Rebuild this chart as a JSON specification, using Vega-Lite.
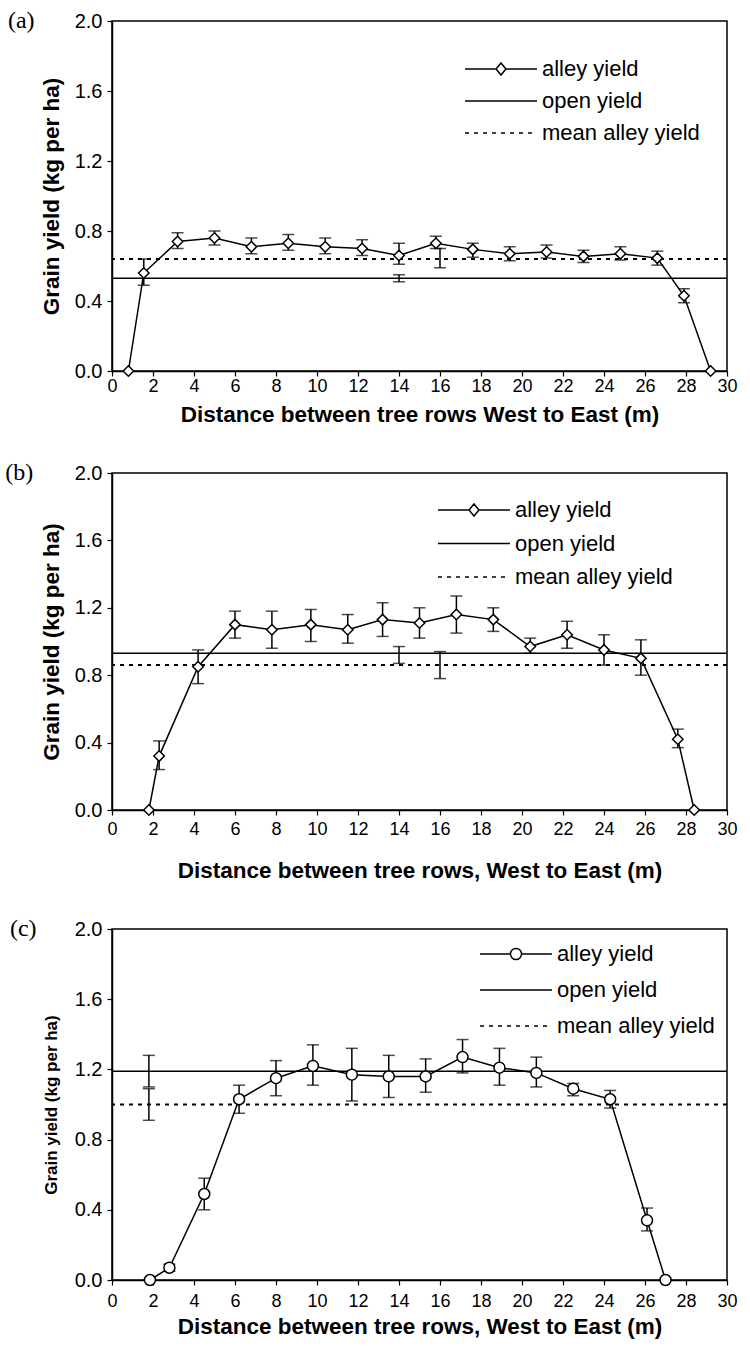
{
  "$schema": "https://vega.github.io/schema/vega-lite/v6.json",
  "background": "white",
  "padding": {"left": 4, "top": 8, "right": 5, "bottom": 5},
  "spacing": 33,
  "config": {
    "font": "Liberation Sans",
    "view": {"stroke": "black", "strokeWidth": 1.5},
    "axis": {"grid": false, "domainColor": "black", "domainWidth": 1.5, "tickColor": "black", "tickWidth": 1.2, "tickSize": 5,
      "labelColor": "black", "labelFont": "Liberation Sans", "labelFontSize": 18, "labelFlush": false, "labelOverlap": false,
      "titleColor": "black", "titleFont": "Liberation Sans", "titleFontSize": 22.5, "titleFontWeight": "bold"},
    "axisY": {"labelFontSize": 20},
    "title": {"font": "Liberation Serif", "fontSize": 24, "fontWeight": "normal", "color": "black"}
  },
  "resolve": {"scale": {"shape": "independent"}, "legend": {"shape": "independent"}},
  "datasets": {
    "a": [
      {"x": 0.8, "y": 0},
      {"x": 1.55, "y": 0.56, "lo": 0.49, "hi": 0.64},
      {"x": 3.2, "y": 0.74, "lo": 0.70, "hi": 0.79},
      {"x": 5.0, "y": 0.76, "lo": 0.72, "hi": 0.80},
      {"x": 6.8, "y": 0.71, "lo": 0.67, "hi": 0.76},
      {"x": 8.6, "y": 0.73, "lo": 0.69, "hi": 0.78},
      {"x": 10.4, "y": 0.71, "lo": 0.67, "hi": 0.76},
      {"x": 12.2, "y": 0.70, "lo": 0.66, "hi": 0.75},
      {"x": 14.0, "y": 0.66, "lo": 0.61, "hi": 0.73},
      {"x": 15.8, "y": 0.73, "lo": 0.70, "hi": 0.77},
      {"x": 17.6, "y": 0.695, "lo": 0.65, "hi": 0.73},
      {"x": 19.4, "y": 0.67, "lo": 0.63, "hi": 0.71},
      {"x": 21.2, "y": 0.68, "lo": 0.645, "hi": 0.72},
      {"x": 23.0, "y": 0.655, "lo": 0.62, "hi": 0.69},
      {"x": 24.8, "y": 0.67, "lo": 0.635, "hi": 0.71},
      {"x": 26.6, "y": 0.645, "lo": 0.605, "hi": 0.685},
      {"x": 27.9, "y": 0.43, "lo": 0.39, "hi": 0.47},
      {"x": 29.2, "y": 0}
    ],
    "b": [
      {"x": 1.8, "y": 0},
      {"x": 2.3, "y": 0.32, "lo": 0.24, "hi": 0.41},
      {"x": 4.2, "y": 0.85, "lo": 0.75, "hi": 0.95},
      {"x": 6.0, "y": 1.10, "lo": 1.02, "hi": 1.18},
      {"x": 7.8, "y": 1.07, "lo": 0.96, "hi": 1.18},
      {"x": 9.7, "y": 1.10, "lo": 1.00, "hi": 1.19},
      {"x": 11.5, "y": 1.07, "lo": 0.99, "hi": 1.16},
      {"x": 13.2, "y": 1.13, "lo": 1.03, "hi": 1.23},
      {"x": 15.0, "y": 1.11, "lo": 1.02, "hi": 1.20},
      {"x": 16.8, "y": 1.16, "lo": 1.05, "hi": 1.27},
      {"x": 18.6, "y": 1.13, "lo": 1.06, "hi": 1.20},
      {"x": 20.4, "y": 0.97, "lo": 0.93, "hi": 1.02},
      {"x": 22.2, "y": 1.04, "lo": 0.96, "hi": 1.12},
      {"x": 24.0, "y": 0.95, "lo": 0.86, "hi": 1.04},
      {"x": 25.8, "y": 0.90, "lo": 0.80, "hi": 1.01},
      {"x": 27.6, "y": 0.42, "lo": 0.37, "hi": 0.48},
      {"x": 28.4, "y": 0}
    ],
    "c": [
      {"x": 1.85, "y": 0},
      {"x": 2.8, "y": 0.07, "lo": 0.05, "hi": 0.09},
      {"x": 4.5, "y": 0.49, "lo": 0.40, "hi": 0.58},
      {"x": 6.2, "y": 1.03, "lo": 0.95, "hi": 1.11},
      {"x": 8.0, "y": 1.15, "lo": 1.05, "hi": 1.25},
      {"x": 9.8, "y": 1.22, "lo": 1.11, "hi": 1.34},
      {"x": 11.7, "y": 1.17, "lo": 1.02, "hi": 1.32},
      {"x": 13.5, "y": 1.16, "lo": 1.04, "hi": 1.28},
      {"x": 15.3, "y": 1.16, "lo": 1.07, "hi": 1.26},
      {"x": 17.1, "y": 1.27, "lo": 1.18, "hi": 1.37},
      {"x": 18.9, "y": 1.21, "lo": 1.11, "hi": 1.32},
      {"x": 20.7, "y": 1.18, "lo": 1.10, "hi": 1.27},
      {"x": 22.5, "y": 1.09, "lo": 1.05, "hi": 1.12},
      {"x": 24.3, "y": 1.03, "lo": 0.98, "hi": 1.08},
      {"x": 26.1, "y": 0.34, "lo": 0.28, "hi": 0.41},
      {"x": 27.0, "y": 0}
    ],
    "refs": [
      {"panel": "a", "series": "open yield", "value": 0.53, "x": 14.0, "lo": 0.51, "hi": 0.55},
      {"panel": "a", "series": "mean alley yield", "value": 0.64, "x": 16.0, "lo": 0.59, "hi": 0.70},
      {"panel": "b", "series": "open yield", "value": 0.93, "x": 14.0, "lo": 0.87, "hi": 0.97},
      {"panel": "b", "series": "mean alley yield", "value": 0.86, "x": 16.0, "lo": 0.78, "hi": 0.94},
      {"panel": "c", "series": "open yield", "value": 1.19, "x": 1.8, "lo": 1.10, "hi": 1.28},
      {"panel": "c", "series": "mean alley yield", "value": 1.0, "x": 1.8, "lo": 0.91, "hi": 1.09}
    ]
  },
  "vconcat": [
    {
      "width": 615, "height": 350,
      "title": {"text": "(a)", "orient": "left", "anchor": "end", "frame": "group", "angle": 0, "align": "right", "baseline": "middle", "offset": -21},
      "layer": [
        {"data": {"name": "refs"}, "transform": [{"filter": "datum.panel == 'a' && datum.series == 'open yield'"}],
         "mark": {"type": "rule", "color": "black", "strokeWidth": 1.5},
         "encoding": {"y": {"field": "value", "type": "quantitative", "title": "Grain yield (kg per ha)", "scale": {"domain": [0, 2]}}}},
        {"data": {"name": "refs"}, "transform": [{"filter": "datum.panel == 'a' && datum.series == 'mean alley yield'"}],
         "mark": {"type": "rule", "color": "black", "strokeWidth": 2, "strokeDash": [4, 5]},
         "encoding": {"y": {"field": "value", "type": "quantitative", "title": "Grain yield (kg per ha)"}}},
        {"data": {"name": "a"},
         "mark": {"type": "line", "color": "black", "strokeWidth": 1.5},
         "encoding": {
           "x": {"field": "x", "type": "quantitative", "title": "Distance between tree rows West to East (m)", "scale": {"domain": [0, 30], "nice": false},
                 "axis": {"values": [0,2,4,6,8,10,12,14,16,18,20,22,24,26,28,30], "labelPadding": 1, "titlePadding": 8}},
           "y": {"field": "y", "type": "quantitative", "title": "Grain yield (kg per ha)", "scale": {"domain": [0, 2]},
                 "axis": {"values": [0, 0.4, 0.8, 1.2, 1.6, 2.0], "format": ".1f", "labelPadding": 5, "titlePadding": 11}}}},
        {"data": {"name": "a"}, "transform": [{"filter": "isValid(datum.lo)"}],
         "mark": {"type": "errorbar", "color": "black", "thickness": 1.5, "ticks": {"size": 12, "thickness": 1.5}},
         "encoding": {"x": {"field": "x", "type": "quantitative", "title": "Distance between tree rows West to East (m)"},
                      "y": {"field": "lo", "type": "quantitative", "title": "Grain yield (kg per ha)"}, "y2": {"field": "hi"}}},
        {"data": {"name": "refs"}, "transform": [{"filter": "datum.panel == 'a'"}],
         "mark": {"type": "errorbar", "color": "black", "thickness": 1.5, "ticks": {"size": 12, "thickness": 1.5}},
         "encoding": {"x": {"field": "x", "type": "quantitative", "title": "Distance between tree rows West to East (m)"},
                      "y": {"field": "lo", "type": "quantitative", "title": "Grain yield (kg per ha)"}, "y2": {"field": "hi"}}},
        {"data": {"name": "a"},
         "mark": {"type": "point", "shape": "diamond", "filled": true, "fill": "white", "stroke": "black", "strokeWidth": 1.5, "size": 110, "opacity": 1},
         "encoding": {"x": {"field": "x", "type": "quantitative", "title": "Distance between tree rows West to East (m)"},
                      "y": {"field": "y", "type": "quantitative", "title": "Grain yield (kg per ha)"}}},
        {"data": {"name": "refs"}, "transform": [{"filter": "datum.panel == 'none'"}],
         "mark": {"type": "point", "color": "black", "filled": false},
         "encoding": {"shape": {"field": "series", "type": "nominal",
           "scale": {"domain": ["alley yield", "open yield", "mean alley yield"],
                     "range": ["M-3.8,0H-1.73M-1.07,0H1M-1.4,-0.4L-1.07,0L-1.4,0.4L-1.73,0Z", "M-3.8,0H1", "M-3.8,0H-3.53M-3.2,0H-2.93M-2.6,0H-2.33M-2,0H-1.73M-1.4,0H-1.13M-0.8,0H-0.53M-0.2,0H0.07M0.4,0H0.67"]},
           "legend": {"title": null, "orient": "none", "legendX": 394, "legendY": 32, "padding": 0, "symbolSize": 900, "symbolStrokeColor": "black", "symbolFillColor": "white", "symbolStrokeWidth": 1.5, "symbolOpacity": 1,
                      "labelFont": "Liberation Sans", "labelFontSize": 22, "labelColor": "black", "labelOffset": 4, "rowPadding": 5}}}}
      ]
    },
    {
      "width": 615, "height": 337,
      "title": {"text": "(b)", "orient": "left", "anchor": "end", "frame": "group", "angle": 0, "align": "right", "baseline": "middle", "offset": -21},
      "layer": [
        {"data": {"name": "refs"}, "transform": [{"filter": "datum.panel == 'b' && datum.series == 'open yield'"}],
         "mark": {"type": "rule", "color": "black", "strokeWidth": 1.5},
         "encoding": {"y": {"field": "value", "type": "quantitative", "title": "Grain yield (kg per ha)", "scale": {"domain": [0, 2]}}}},
        {"data": {"name": "refs"}, "transform": [{"filter": "datum.panel == 'b' && datum.series == 'mean alley yield'"}],
         "mark": {"type": "rule", "color": "black", "strokeWidth": 2, "strokeDash": [4, 5]},
         "encoding": {"y": {"field": "value", "type": "quantitative", "title": "Grain yield (kg per ha)"}}},
        {"data": {"name": "b"},
         "mark": {"type": "line", "color": "black", "strokeWidth": 1.5},
         "encoding": {
           "x": {"field": "x", "type": "quantitative", "title": "Distance between tree rows, West to East (m)", "scale": {"domain": [0, 30], "nice": false},
                 "axis": {"values": [0,2,4,6,8,10,12,14,16,18,20,22,24,26,28,30], "labelPadding": 5, "titlePadding": 21}},
           "y": {"field": "y", "type": "quantitative", "title": "Grain yield (kg per ha)", "scale": {"domain": [0, 2]},
                 "axis": {"values": [0, 0.4, 0.8, 1.2, 1.6, 2.0], "format": ".1f", "labelPadding": 5, "titlePadding": 11}}}},
        {"data": {"name": "b"}, "transform": [{"filter": "isValid(datum.lo)"}],
         "mark": {"type": "errorbar", "color": "black", "thickness": 1.5, "ticks": {"size": 12, "thickness": 1.5}},
         "encoding": {"x": {"field": "x", "type": "quantitative", "title": "Distance between tree rows, West to East (m)"},
                      "y": {"field": "lo", "type": "quantitative", "title": "Grain yield (kg per ha)"}, "y2": {"field": "hi"}}},
        {"data": {"name": "refs"}, "transform": [{"filter": "datum.panel == 'b'"}],
         "mark": {"type": "errorbar", "color": "black", "thickness": 1.5, "ticks": {"size": 12, "thickness": 1.5}},
         "encoding": {"x": {"field": "x", "type": "quantitative", "title": "Distance between tree rows, West to East (m)"},
                      "y": {"field": "lo", "type": "quantitative", "title": "Grain yield (kg per ha)"}, "y2": {"field": "hi"}}},
        {"data": {"name": "b"},
         "mark": {"type": "point", "shape": "diamond", "filled": true, "fill": "white", "stroke": "black", "strokeWidth": 1.5, "size": 110, "opacity": 1},
         "encoding": {"x": {"field": "x", "type": "quantitative", "title": "Distance between tree rows, West to East (m)"},
                      "y": {"field": "y", "type": "quantitative", "title": "Grain yield (kg per ha)"}}},
        {"data": {"name": "refs"}, "transform": [{"filter": "datum.panel == 'none'"}],
         "mark": {"type": "point", "color": "black", "filled": false},
         "encoding": {"shape": {"field": "series", "type": "nominal",
           "scale": {"domain": ["alley yield", "open yield", "mean alley yield"],
                     "range": ["M-3.8,0H-1.73M-1.07,0H1M-1.4,-0.4L-1.07,0L-1.4,0.4L-1.73,0Z", "M-3.8,0H1", "M-3.8,0H-3.53M-3.2,0H-2.93M-2.6,0H-2.33M-2,0H-1.73M-1.4,0H-1.13M-0.8,0H-0.53M-0.2,0H0.07M0.4,0H0.67"]},
           "legend": {"title": null, "orient": "none", "legendX": 367, "legendY": 21, "padding": 0, "symbolSize": 900, "symbolStrokeColor": "black", "symbolFillColor": "white", "symbolStrokeWidth": 1.5, "symbolOpacity": 1,
                      "labelFont": "Liberation Sans", "labelFontSize": 22, "labelColor": "black", "labelOffset": 4, "rowPadding": 6.5}}}}
      ]
    },
    {
      "width": 615, "height": 351,
      "title": {"text": "(c)", "orient": "left", "anchor": "end", "frame": "group", "angle": 0, "align": "right", "baseline": "middle", "offset": -21},
      "layer": [
        {"data": {"name": "refs"}, "transform": [{"filter": "datum.panel == 'c' && datum.series == 'open yield'"}],
         "mark": {"type": "rule", "color": "black", "strokeWidth": 1.5},
         "encoding": {"y": {"field": "value", "type": "quantitative", "title": "Grain yield (kg per ha)", "scale": {"domain": [0, 2]}}}},
        {"data": {"name": "refs"}, "transform": [{"filter": "datum.panel == 'c' && datum.series == 'mean alley yield'"}],
         "mark": {"type": "rule", "color": "black", "strokeWidth": 2, "strokeDash": [4, 5]},
         "encoding": {"y": {"field": "value", "type": "quantitative", "title": "Grain yield (kg per ha)"}}},
        {"data": {"name": "c"},
         "mark": {"type": "line", "color": "black", "strokeWidth": 1.5},
         "encoding": {
           "x": {"field": "x", "type": "quantitative", "title": "Distance between tree rows, West to East (m)", "scale": {"domain": [0, 30], "nice": false},
                 "axis": {"values": [0,2,4,6,8,10,12,14,16,18,20,22,24,26,28,30], "labelPadding": 7, "titlePadding": 5}},
           "y": {"field": "y", "type": "quantitative", "title": "Grain yield (kg per ha)", "scale": {"domain": [0, 2]},
                 "axis": {"values": [0, 0.4, 0.8, 1.2, 1.6, 2.0], "format": ".1f", "labelPadding": 5, "titlePadding": 14, "titleFontSize": 17}}}},
        {"data": {"name": "c"}, "transform": [{"filter": "isValid(datum.lo)"}],
         "mark": {"type": "errorbar", "color": "black", "thickness": 1.5, "ticks": {"size": 12, "thickness": 1.5}},
         "encoding": {"x": {"field": "x", "type": "quantitative", "title": "Distance between tree rows, West to East (m)"},
                      "y": {"field": "lo", "type": "quantitative", "title": "Grain yield (kg per ha)"}, "y2": {"field": "hi"}}},
        {"data": {"name": "refs"}, "transform": [{"filter": "datum.panel == 'c'"}],
         "mark": {"type": "errorbar", "color": "black", "thickness": 1.5, "ticks": {"size": 12, "thickness": 1.5}},
         "encoding": {"x": {"field": "x", "type": "quantitative", "title": "Distance between tree rows, West to East (m)"},
                      "y": {"field": "lo", "type": "quantitative", "title": "Grain yield (kg per ha)"}, "y2": {"field": "hi"}}},
        {"data": {"name": "c"},
         "mark": {"type": "point", "shape": "circle", "filled": true, "fill": "white", "stroke": "black", "strokeWidth": 1.5, "size": 121, "opacity": 1},
         "encoding": {"x": {"field": "x", "type": "quantitative", "title": "Distance between tree rows, West to East (m)"},
                      "y": {"field": "y", "type": "quantitative", "title": "Grain yield (kg per ha)"}}},
        {"data": {"name": "refs"}, "transform": [{"filter": "datum.panel == 'none'"}],
         "mark": {"type": "point", "color": "black", "filled": false},
         "encoding": {"shape": {"field": "series", "type": "nominal",
           "scale": {"domain": ["alley yield", "open yield", "mean alley yield"],
                     "range": ["M-3.8,0H-1.77M-1.03,0H1M-1.77,0A0.37,0.37,0,1,1,-1.03,0A0.37,0.37,0,1,1,-1.77,0Z", "M-3.8,0H1", "M-3.8,0H-3.53M-3.2,0H-2.93M-2.6,0H-2.33M-2,0H-1.73M-1.4,0H-1.13M-0.8,0H-0.53M-0.2,0H0.07M0.4,0H0.67"]},
           "legend": {"title": null, "orient": "none", "legendX": 409, "legendY": 9, "padding": 0, "symbolSize": 900, "symbolStrokeColor": "black", "symbolFillColor": "white", "symbolStrokeWidth": 1.5, "symbolOpacity": 1,
                      "labelFont": "Liberation Sans", "labelFontSize": 22, "labelColor": "black", "labelOffset": 4, "rowPadding": 9}}}}
      ]
    }
  ]
}
